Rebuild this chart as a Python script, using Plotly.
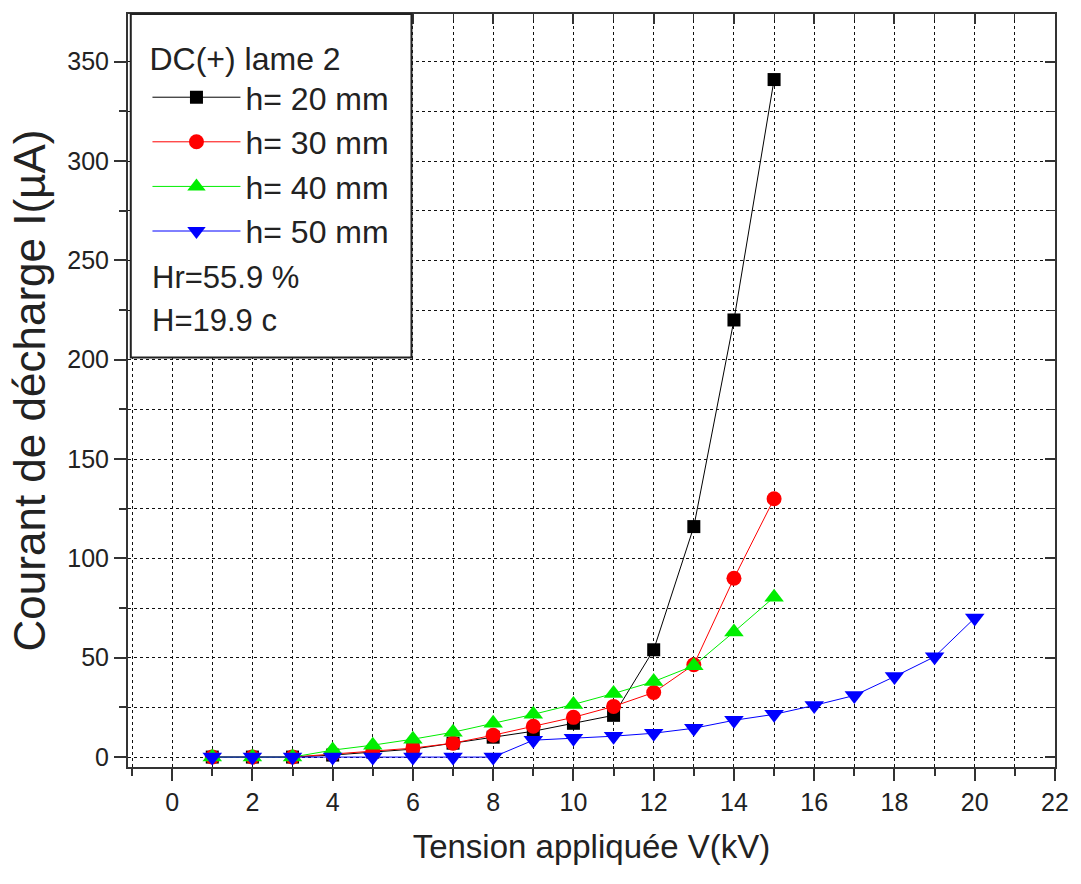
import plotly.graph_objects as go

# Data
x_20 = [1, 2, 3, 4, 5, 6, 7, 8, 9, 10, 11, 12, 13, 14, 15]
i_20 = [0, 0, 0, 1, 2.5, 4, 7, 10, 13, 17, 21, 54, 116, 220, 341]
x_30 = [1, 2, 3, 4, 5, 6, 7, 8, 9, 10, 11, 12, 13, 14, 15]
i_30 = [0, 0, 0, 1.5, 3, 4.5, 7, 11, 15.5, 20, 25.5, 32.5, 46.5, 90, 130]
x_40 = [1, 2, 3, 4, 5, 6, 7, 8, 9, 10, 11, 12, 13, 14, 15]
i_40 = [0, 0, 0, 3.5, 6, 9, 12.5, 17, 21.5, 26.5, 32, 38, 46, 63, 80.5]
x_50 = [1, 2, 3, 4, 5, 6, 7, 8, 9, 10, 11, 12, 13, 14, 15, 16, 17, 18, 19, 20]
i_50 = [0, 0, 0, 0, 0, 0, 0, 0, 8.5, 9.5, 10.5, 12, 14.5, 18.5, 21.5, 26, 31, 40.5, 50.5, 70]

names = ["h= 20 mm", "h= 30 mm", "h= 40 mm", "h= 50 mm"]
legend_title = "DC(+) lame 2"
extra_lines = ["Hr=55.9 %", "H=19.9 c"]
x_title = "Tension appliquée V(kV)"
y_title = "Courant de décharge I(µA)"

FONT = "Liberation Sans, Arial, sans-serif"
TXT = "#222222"

series = [
    (x_20, i_20, names[0], "#000000", "square", 13),
    (x_30, i_30, names[1], "#ff0000", "circle", 15),
    (x_40, i_40, names[2], "#00ee00", "triangle-up", 17),
    (x_50, i_50, names[3], "#0000ff", "triangle-down", 17),
]

fig = go.Figure()
for xs, ys, nm, col, sym, sz in series:
    fig.add_trace(go.Scatter(
        x=xs, y=ys, name=nm, mode="lines+markers",
        line=dict(color=col, width=1),
        marker=dict(color=col, symbol=sym, size=sz, line=dict(width=0)),
    ))

# invisible trace to carry mirrored axes (inward ticks on top/right)
fig.add_trace(go.Scatter(x=[None], y=[None], xaxis="x2", yaxis="y2",
                         showlegend=False, hoverinfo="skip"))

XR = [-1.1, 22]
YR = [-5, 374]

GRIDC = "#111111"
grid = dict(showgrid=True, gridcolor=GRIDC, gridwidth=1.4, griddash="dot")

fig.update_layout(
    width=1081, height=884,
    margin=dict(l=128, r=21, t=13, b=117),
    paper_bgcolor="white", plot_bgcolor="white",
    font=dict(family=FONT, color=TXT, size=25),
    xaxis=dict(
        range=XR, dtick=2, tick0=0, ticks="outside", ticklen=12, tickwidth=2,
        tickcolor="#333", showline=True, linewidth=2, linecolor="#333",
        mirror=True, zeroline=False,
        tickfont=dict(size=25, family=FONT, color=TXT),
        title=dict(text=x_title, font=dict(size=33, family=FONT, color=TXT), standoff=20),
        minor=dict(dtick=1, tick0=0, ticks="outside", ticklen=7, tickwidth=2,
                   tickcolor="#333", showgrid=True, gridcolor=GRIDC,
                   gridwidth=1.4, griddash="dot"),
        **grid,
    ),
    yaxis=dict(
        range=YR, dtick=50, tick0=0, ticks="outside", ticklen=12, tickwidth=2,
        tickcolor="#333", showline=True, linewidth=2, linecolor="#333",
        mirror=True, zeroline=False,
        tickfont=dict(size=25, family=FONT, color=TXT),
        title=dict(text=y_title, font=dict(size=44, family=FONT, color=TXT), standoff=8),
        minor=dict(dtick=25, tick0=0, ticks="outside", ticklen=7, tickwidth=2,
                   tickcolor="#333", showgrid=True, gridcolor=GRIDC,
                   gridwidth=1.4, griddash="dot"),
        **grid,
    ),
    xaxis2=dict(range=XR, overlaying="x", side="top", anchor="y2", dtick=2, tick0=0,
                ticks="inside", ticklen=10, tickwidth=2, tickcolor="#333",
                showticklabels=False, showgrid=False, zeroline=False,
                minor=dict(dtick=1, ticks="inside", ticklen=6, tickwidth=1, tickcolor="#333")),
    yaxis2=dict(range=YR, overlaying="y", side="right", anchor="x2", dtick=50, tick0=0,
                ticks="inside", ticklen=10, tickwidth=2, tickcolor="#333",
                showticklabels=False, showgrid=False, zeroline=False,
                minor=dict(dtick=25, ticks="inside", ticklen=6, tickwidth=1, tickcolor="#333")),
    legend=dict(
        x=0.021, y=0.981, xanchor="left", yanchor="top",
        bgcolor="rgba(0,0,0,0)", borderwidth=0,
        font=dict(size=32, family=FONT, color=TXT),
        title=dict(text=legend_title, font=dict(size=32, family=FONT, color=TXT)),
        itemwidth=88, tracegroupgap=0,
    ),
    showlegend=True,
)

# legend frame (white box covering the grid)
fig.add_shape(type="rect", xref="paper", yref="paper",
              x0=0.003, x1=0.3058, y0=0.5438, y1=1.0,
              line=dict(color="#222222", width=2), fillcolor="white", layer="above")

for k, t in enumerate(extra_lines):
    fig.add_annotation(xref="paper", yref="paper", x=0.024, y=(767 - 277 - 43 * k) / 754,
                       xanchor="left", yanchor="middle", showarrow=False, text=t,
                       font=dict(size=31, family=FONT, color=TXT))

fig.write_html("out.html")
